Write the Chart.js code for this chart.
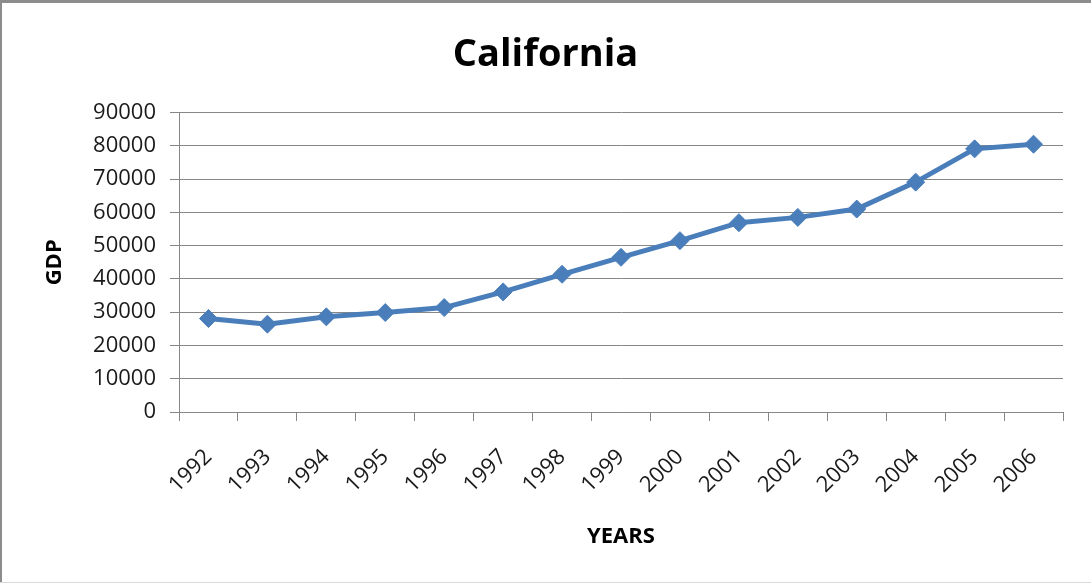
<!DOCTYPE html>
<html>
<head>
<meta charset="utf-8">
<script src="https://cdn.jsdelivr.net/npm/chart.js@4/dist/chart.umd.min.js"></script>
<style>
  html, body { margin: 0; padding: 0; background: #fff; }
  #wrap { position: relative; width: 1091px; height: 583px; }
</style>
</head>
<body>
<div id="wrap"><canvas id="chart" width="1091" height="583"></canvas></div>
<script>
// California GDP by year
const years = ['1992', '1993', '1994', '1995', '1996', '1997', '1998', '1999',
               '2000', '2001', '2002', '2003', '2004', '2005', '2006'];
const gdp = [28100, 26400, 28600, 29900, 31400, 36100, 41400, 46500,
             51500, 56900, 58500, 61000, 69100, 79100, 80500];
const yTicks = [0, 10000, 20000, 30000, 40000, 50000, 60000, 70000, 80000, 90000];

const FONT = '"Open Sans", "Liberation Sans", sans-serif';
const GRID = '#878787';

// Outer frame of the chart object
const framePlugin = {
  id: 'frame',
  afterDraw(chart) {
    const ctx = chart.ctx;
    const w = chart.width, h = chart.height;
    ctx.save();
    ctx.strokeStyle = '#8c8c8c';
    ctx.lineWidth = 3;
    ctx.beginPath();
    ctx.moveTo(0, 1.5); ctx.lineTo(w, 1.5);
    ctx.stroke();
    ctx.lineWidth = 2;
    ctx.beginPath();
    ctx.moveTo(1, 0); ctx.lineTo(1, h);
    ctx.stroke();
    ctx.strokeStyle = '#d9d9d9';
    ctx.lineWidth = 1;
    ctx.beginPath();
    ctx.moveTo(0, h - 0.5); ctx.lineTo(w, h - 0.5);
    ctx.stroke();
    ctx.restore();
  }
};

new Chart(document.getElementById('chart'), {
  type: 'line',
  data: {
    labels: years,
    datasets: [{
      label: 'GDP',
      data: gdp,
      borderColor: '#4a7ebb',
      backgroundColor: '#4a7ebb',
      borderWidth: 5,
      pointStyle: 'rectRot',
      pointRadius: 9,
      pointHoverRadius: 9,
      pointBorderWidth: 1,
      pointBorderColor: '#4a7ebb',
      pointBackgroundColor: '#4a7ebb',
      tension: 0,
      clip: false
    }]
  },
  options: {
    responsive: false,
    animation: false,
    events: [],
    layout: { padding: 0 },
    plugins: {
      legend: { display: false },
      tooltip: { enabled: false },
      title: {
        display: true,
        text: 'California',
        color: '#000',
        font: { family: FONT, size: 38, weight: 'bold', lineHeight: 1.2 },
        padding: { top: 32, bottom: 35 }
      }
    },
    scales: {
      x: {
        type: 'category',
        offset: true,
        afterFit(scale) { scale.height = 171; },
        grid: {
          offset: true,
          drawOnChartArea: false,
          drawTicks: true,
          tickLength: 9,
          color: GRID,
          lineWidth: 1
        },
        border: { display: true, color: GRID, width: 1 },
        ticks: {
          color: '#1a1a1a',
          font: { family: FONT, size: 22 },
          minRotation: 45,
          maxRotation: 45,
          autoSkip: false,
          padding: 23
        },
        title: {
          display: true,
          text: 'YEARS',
          color: '#000',
          font: { family: FONT, size: 22, weight: 'bold', lineHeight: 1.2 },
          padding: { top: 0, bottom: 33 }
        }
      },
      y: {
        min: 0,
        max: 90000,
        afterFit(scale) { scale.width = 179; },
        afterBuildTicks(scale) { scale.ticks = yTicks.map(v => ({ value: v })); },
        grid: {
          drawOnChartArea: true,
          drawTicks: true,
          tickLength: 9,
          color: GRID,
          lineWidth: 1
        },
        border: { display: true, color: GRID, width: 1 },
        ticks: {
          color: '#1a1a1a',
          font: { family: FONT, size: 22 },
          padding: 14,
          callback: v => String(v)
        },
        title: {
          display: true,
          text: 'GDP',
          color: '#000',
          font: { family: FONT, size: 22, weight: 'bold', lineHeight: 1.2 },
          padding: { top: 42, bottom: 0 }
        }
      },
      // empty margin on the right side of the plot
      yRight: {
        position: 'right',
        display: true,
        min: 0,
        max: 90000,
        afterFit(scale) { scale.width = 28; },
        grid: { display: false, drawOnChartArea: false },
        border: { display: false },
        ticks: { display: false }
      }
    }
  },
  plugins: [framePlugin]
});
</script>
</body>
</html>
